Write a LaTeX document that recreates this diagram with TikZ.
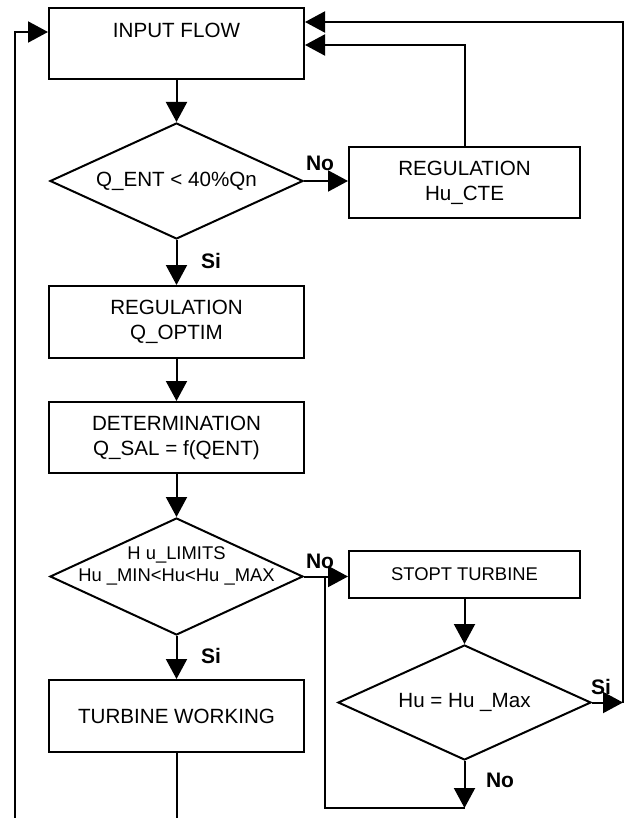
\documentclass[tikz,border=0pt]{standalone}
\usepackage{fontspec}
\setmainfont{Liberation Sans}
\usetikzlibrary{shapes.geometric,arrows.meta}
\tikzset{process/.style = {shape=rectangle,draw,line width=1pt,minimum width=127.5pt,minimum height=35.5pt,inner sep=0pt,align=center}}
\tikzset{decision/.style = {shape=diamond,draw,line width=1pt,minimum width=126.5pt,minimum height=58pt,aspect=2.2,inner sep=0pt,align=center}}
\tikzset{flow/.style = {-{Triangle[length=10pt,width=10.5pt]},line width=1pt}}
\tikzset{edge/.style = {-,line width=1pt}}
\tikzset{answer/.style = {font=\fontsize{10.5pt}{12pt}\selectfont\bfseries,inner sep=0pt}}

\begin{document}
\begin{tikzpicture}[x=0.5pt,y=-0.5pt,every node/.style={font=\fontsize{10.3pt}{12.5pt}\selectfont}]
\useasboundingbox (0,0) rectangle (625,818);
% blocks
\node[process,text height=14.75pt,text depth=20.75pt] (in) at (176.5,43.5) {INPUT FLOW};
\node[decision] (q) at (176.5,181) {Q\_ENT < 40\%Qn};
\node[process,minimum width=115.5pt] (cte) at (464.5,182.5) {REGULATION\\Hu\_CTE};
\node[process,minimum height=36pt] (opt) at (176.5,322) {REGULATION\\Q\_OPTIM};
\node[process] (det) at (176.5,437.5) {DETERMINATION\\Q\_SAL = f(QENT)};
\node[decision,minimum height=58.5pt] (lim) at (176.5,576.5) {};
\node[font=\fontsize{9.2pt}{11pt}\selectfont,align=center] (limtext) at (176.5,566) {H u\_LIMITS\\Hu \_MIN<Hu<Hu \_MAX};
\node[process,minimum width=115.5pt,minimum height=23.5pt,font=\fontsize{9.2pt}{10pt}\selectfont] (stop) at (464.5,574.5) {STOPT TURBINE};
\node[decision,minimum height=57.5pt] (max) at (464.5,702.5) {Hu = Hu \_Max};
\node[process,minimum height=36pt] (work) at (176.5,716) {TURBINE WORKING};

% answers
\node[answer] (no1) at (320,163) {No};
\node[answer] (si1) at (211,261) {Si};
\node[answer] (no2) at (320,561) {No};
\node[answer] (si2) at (211,656) {Si};
\node[answer] (si3) at (601,687) {Si};
\node[answer] (no3) at (500,780) {No};

% turning points
\coordinate (inA) at (305,22);
\coordinate (inB) at (305,45);
\coordinate (inC) at (48,32);
\coordinate (leftEnd) at (15,818);
\coordinate (workEnd) at (176.5,818);
\coordinate (siTurn) at (623,702.5);
\coordinate (noBot) at (464.5,808);
\coordinate (noCorner) at (325,808);

%edges
\draw[flow] (in) -- (q);
\draw[flow] (q.east) -- (q.east -| cte.west);
\draw[flow] (cte.north) |- (inB);
\draw[flow] (q) -- (opt);
\draw[flow] (opt) -- (det);
\draw[flow] (det) -- (lim);
\draw[flow] (lim.east) -- (lim.east -| stop.west);
\draw[flow] (lim) -- (work);
\draw[flow] (stop) -- (max);
\draw[flow] (max.east) -- (siTurn);
\draw[flow] (siTurn) |- (inA);
\draw[flow] (max) -- (noBot);
\draw[edge] (noBot) -- (noCorner) -- (noCorner |- lim.east);
\draw[edge] (work) -- (workEnd);
\draw[flow] (leftEnd) |- (inC);
\end{tikzpicture}
\end{document}
